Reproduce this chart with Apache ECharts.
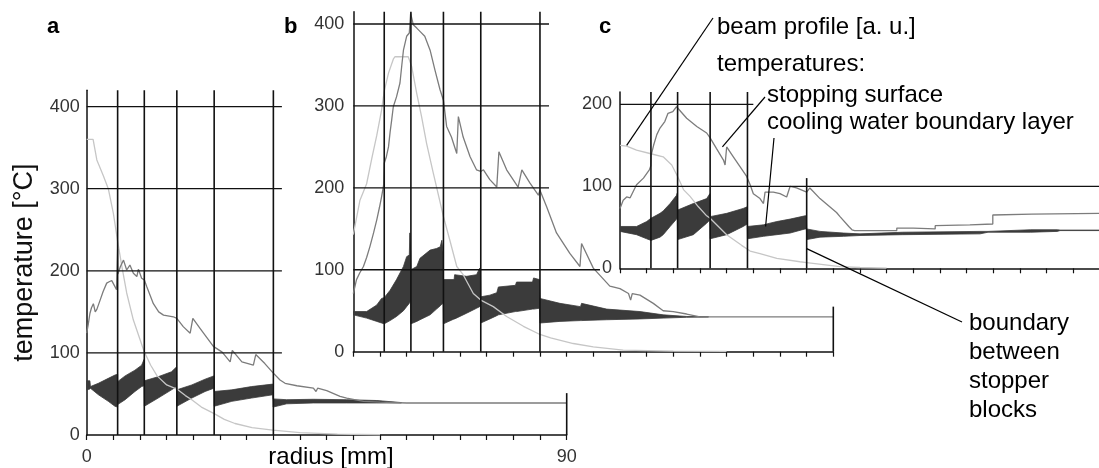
<!DOCTYPE html>
<html><head><meta charset="utf-8">
<script src="https://cdn.jsdelivr.net/npm/echarts@6/dist/echarts.min.js"></script>
<style>html,body{margin:0;padding:0;background:#fff}#c{width:1099px;height:468px}</style>
</head><body><div id="c"></div>
<script>
// ---------- DATA (radius in mm, temperature in °C) ----------
const xTickValues = [0, 90];
const yTickValues = [0, 100, 200, 300, 400];
const blockBounds = [5.8, 10.8, 16.9, 23.9, 35.0];

// Panel a
const beamA = [[0,360],[1.2,360],[1.9,335],[3.1,316],[4.05,300],[5,270],[5.75,238],[6.6,205],[7.5,173],[8.75,140],[10.75,102],[12,85],[13.2,72],[15,61],[16.9,56],[18.5,48],[19.7,43],[21.5,34],[23.9,26],[25.8,19],[27.8,14],[31,9],[34.9,6],[40,3],[47,1],[55,0.3]];
const surfA = [[0,124],[0.3,135],[0.6,148],[0.9,155],[1.25,160],[1.6,150],[1.9,153],[2.5,164],[3.1,175],[3.75,185],[4.3,187],[4.7,188],[5.2,182],[5.6,177],[5.78,176],[5.8,227],[5.85,196],[6.3,205],[6.9,213],[7.5,201],[8.1,207],[8.75,197],[9.4,193],[9.7,202],[10.3,191],[10.8,189],[11.25,181],[12.5,160],[13.5,150],[14.4,146],[16.25,144],[16.9,142],[18.1,132],[19.4,124],[19.9,142],[21.25,130],[22.5,119],[23.75,108],[25.4,101],[26.9,89],[27.3,103],[29.1,89],[31.25,85],[31.7,98],[33.4,87],[34.9,76],[36.25,67],[37.2,63],[39.4,60],[42.5,57],[43,53],[43.3,57],[45,54],[47.5,47],[48.75,45],[51.9,41],[55,40],[60,39],[90,39]];
// [radius, lower, upper]
const bandA = [[0,55,66],[0.6,56,66],[0.7,57,59],[2.2,49,63],[4.05,41,69],[5.3,35,73],[5.8,34,74],
  [5.8,37,65],[7.2,43,72],[9.05,53,79],[10.3,59,85],[10.75,60,92],
  [10.8,35,66],[13.4,45,71],[15.9,55,77],[16.85,59,83],
  [16.9,35,55],[19.7,45,61],[22.2,53,68],[23.85,57,72],
  [23.9,35,53],[27.2,41,55],[30.9,45,59],[34.9,49,62],
  [34.95,34,44],[37.5,38,43],[42.5,39,43.5],[48.75,39,43],[54.4,39,42],[59,39,39.5]];

// Panel b
const beamB = [[0,143],[1.25,185],[2.5,205],[3.5,237],[4.4,264],[5.3,295],[5.8,318],[6.6,340],[7.5,357],[7.8,360],[10.3,360],[10.95,348],[11.9,315],[12.8,287],[13.75,254],[15,218],[16.9,165],[18.1,136],[19.4,104],[20.6,94],[22.5,71],[23.9,63],[26.25,55],[28.75,43],[31.9,31],[35,21],[37,17],[41.25,10],[45,6],[50.6,2],[60,0.6],[70,0.3]];
const surfB = [[0,71],[0.6,88],[1.2,96],[1.9,104],[2.5,115],[3.1,128],[3.8,145],[4.4,161],[4.9,176],[5.3,189],[5.7,204],[5.8,230],[6.2,238],[6.6,250],[6.9,268],[7.2,283],[7.5,299],[8.1,311],[8.75,328],[9.1,350],[9.4,368],[10.0,385],[10.5,389],[10.75,413],[11.25,399],[11.9,395],[12.5,391],[13.4,385],[14.4,368],[15.3,344],[16.25,320],[16.9,307],[17.5,275],[18.4,262],[19.4,242],[19.7,287],[20.6,262],[21.9,238],[23.1,222],[23.9,220],[24.4,222],[25.6,210],[26.9,201],[27.3,244],[28.75,222],[30.9,201],[31.6,222],[33.1,206],[34.7,191],[35,197],[36.25,177],[38.1,145],[40.6,120],[42.5,104],[42.8,132],[45,102],[48.1,80],[50,77],[51.6,71],[52,63],[52.3,71],[53.75,69],[56.25,59],[58.1,50],[60,49],[62.5,46],[65,42.5],[90,42.5]];
const bandB = [[0,45,49],[2.5,41,49],[4.4,37,57],[5.3,35,65],[5.8,34,66],
  [5.8,34,66],[6.9,38,75],[8.1,43,88],[9.4,50,104],[10,55,116],[10.5,59,118],[10.6,60,145],[10.75,61,122],
  [10.8,34,100],[11.9,37,104],[12.5,39,114],[14.4,45,124],[15.6,52,126],[16.3,56,128],[16.6,58,136],[16.85,59,120],
  [16.9,34,88],[18.9,40,88],[19.0,40,94],[21.25,47,92],[23.1,53,94],[23.7,55,102],[23.85,55,95],
  [23.9,35,67],[25.6,40,69],[26.9,44,72],[27.2,45,79],[30.4,49,81],[30.6,49,85],[33.6,52,85],[33.8,52,90],[34.9,53,88],
  [35,35,65],[38.75,37,59],[42.6,38,55],[42.8,38,59],[47.5,39,52],[53.75,40,49],[58.1,41,45],[62.5,42,43],[66.6,42.4,42.6]];

// Panel c
const beamC = [[0,150],[1.25,149],[3.1,144],[5.6,140],[8.1,136],[9.7,126],[10.8,112],[11.9,96],[13.1,88],[14.7,75],[16.25,64],[16.9,61],[20,41],[22.8,28],[24.4,21],[26.25,18],[29.4,12],[33.75,8],[35,7],[41.25,2],[45,1],[50,0.3]];
const surfC = [[0,73],[0.6,83],[1.25,87],[1.9,86],[3.1,102],[4.4,110],[5.5,120],[5.78,125],[5.85,138],[6.3,150],[6.9,163],[7.5,171],[8.4,179],[9.0,189],[9.9,191],[10.6,197],[10.9,195],[12.5,183],[14.4,173],[16.25,165],[16.9,159],[18.1,146],[19.4,132],[19.7,126],[20,148],[21.25,136],[22.5,124],[23.75,112],[24.4,102],[25,91],[26.25,85],[26.9,79],[27.2,93],[28.75,93],[30,91],[31.25,87],[31.9,100],[33.1,98],[35,93],[35.6,98],[37.5,85],[40.6,68],[41.25,63],[42.9,51],[43.5,47],[44,46],[51.9,46],[51.9,49],[55,49],[55,48],[59.1,48],[59.1,52],[65.6,53],[69.9,54],[69.9,65],[77.2,66],[77.2,67],[90,67]];
const bandC = [[0,45,51],[3.1,41,51],[5,36,57],[5.8,34,61],
  [5.8,34,61],[7.5,38,67],[8.1,41,70],[9.4,51,79],[10.6,60,89],[10.75,61,92],
  [10.8,35,71],[13.75,41,79],[16.25,55,85],[16.85,59,91],
  [16.9,36,63],[20,41,67],[23.1,51,73],[23.85,54,75],
  [23.9,36,51],[26.9,39,53],[28.1,40,55],[29.4,41,57],[31.9,43,60],[34.7,48,64],[34.95,48,64],
  [35,35,48],[37.5,38,45],[41.9,39,43],[45,40,42],[53,41,44],[67.5,42,45],[69,44,45],[77,44,47],[82,45,47],[82.5,46,46.6],[90,46,46.6]];

// Grid line extents: [temperature, radius end]
const hGridA = [[100,36.6],[200,36.6],[300,36.6],[400,36.6]];
const hGridB = [[100,46.25],[200,36.7],[300,36.7],[400,36.7]];
const hGridC = [[100,90],[200,25]];
const blockTopA = [420,420,420,420,420];
const blockTopB = [415,415,415,415,415];
const blockTopC = [215,215,215,215,110];
const endMarkA = 51, endMarkB = 55;

// annotation anchors (panel c data coords)
const anchorBeam = [1.25,150], anchorSurf = [19.2,148], anchorBand = [27.3,51], anchorBound = [35,24];

// ---------- LAYOUT ----------
const FONT = 'Liberation Sans, Arial, Helvetica, sans-serif';
const panels = [
  {left:86.7, top:90.2, width:480, height:344.8, ymax:420, labelMargin:7, beam:beamA, surf:surfA, band:bandA, hg:hGridA, bt:blockTopA, em:endMarkA, xl:true},
  {left:353.3, top:11.7, width:480, height:340, ymax:415, labelMargin:9, beam:beamB, surf:surfB, band:bandB, hg:hGridB, bt:blockTopB, em:endMarkB, xl:false},
  {left:620, top:92, width:480, height:176.3, ymax:215, labelMargin:8, beam:beamC, surf:surfC, band:bandC, hg:hGridC, bt:blockTopC, em:null, xl:false}
];

function segsFor(p){
  const s = [];
  p.hg.forEach(h => s.push([0,h[0],h[1],h[0]]));
  blockBounds.forEach((b,i) => s.push([b,0,b,p.bt[i]]));
  if (p.em != null) s.push([90,0,90,p.em]);
  return s;
}

const grid=[], xAxis=[], yAxis=[], series=[];
panels.forEach((p,i)=>{
  grid.push({left:p.left, top:p.top, width:p.width, height:p.height, containLabel:false, outerBoundsMode:'none'});
  xAxis.push({
    type:'value', gridIndex:i, min:0, max:90, interval:5,
    axisLine:{show:true, lineStyle:{color:'#111', width:1.5}},
    axisTick:{show:true, inside:false, length:5, lineStyle:{color:'#111', width:1.2}},
    splitLine:{show:false},
    axisLabel:{show:p.xl, margin:13, fontSize:18, fontFamily:FONT, color:'#333',
      formatter:v => xTickValues.indexOf(v)>=0 ? String(v) : ''}
  });
  yAxis.push({
    type:'value', gridIndex:i, min:0, max:p.ymax, interval:100,
    axisLine:{show:true, lineStyle:{color:'#111', width:1.5}},
    axisTick:{show:false}, splitLine:{show:false},
    axisLabel:{margin:p.labelMargin, fontSize:18, fontFamily:FONT, color:'#333',
      formatter:v => yTickValues.indexOf(v)>=0 ? String(v) : ''},
    name: i===0 ? 'temperature [°C]' : '', nameLocation:'middle', nameGap:49,
    nameTextStyle:{fontSize:27, fontFamily:FONT, color:'#111'}
  });
  const band = p.band;
  series.push({
    type:'custom', xAxisIndex:i, yAxisIndex:i, z:2, clip:true, silent:true,
    data:band, encode:{x:0, y:[1,2]},
    renderItem:(params, api)=>{
      if (params.dataIndex!==0) return null;
      const pts=[];
      for (let k=0;k<band.length;k++) pts.push(api.coord([band[k][0], band[k][2]]));
      for (let k=band.length-1;k>=0;k--) pts.push(api.coord([band[k][0], band[k][1]]));
      return {type:'polygon', shape:{points:pts}, style:{fill:'#3b3b3b', stroke:'#3b3b3b', lineWidth:0.8}};
    }
  });
  series.push({type:'line', xAxisIndex:i, yAxisIndex:i, z:3, data:p.beam, showSymbol:false, symbol:'none',
    lineStyle:{color:'#c6c6c6', width:1.3}, silent:true});
  series.push({type:'line', xAxisIndex:i, yAxisIndex:i, z:4, data:p.surf, showSymbol:false, symbol:'none',
    lineStyle:{color:'#7c7c7c', width:1.3}, silent:true});
  series.push({
    type:'custom', xAxisIndex:i, yAxisIndex:i, z:5, clip:false, silent:true,
    data:segsFor(p), encode:{x:[0,2], y:[1,3]},
    renderItem:(params, api)=>{
      const a=api.coord([api.value(0),api.value(1)]), b=api.coord([api.value(2),api.value(3)]);
      const vertical = api.value(0)===api.value(2);
      return {type:'line', shape:{x1:a[0],y1:a[1],x2:b[0],y2:b[1]},
        style:{stroke:'#111', lineWidth: vertical?1.6:1.3}};
    }
  });
});

const txt = (t,x,y,size,bold,align) => ({type:'text', x:x, y:y, silent:true, z:10,
  style:{text:t, font:(bold?'bold ':'')+size+'px '+FONT, fill:'#000', textAlign:align||'left', textVerticalAlign:'middle'}});

const texts = [
  txt('a',47,27,22,true), txt('b',284,27,22,true), txt('c',599,27,22,true),
  txt('radius [mm]',331,457,24,false,'center'),
  txt('beam profile [a. u.]',717,27,24), txt('temperatures:',717,64,24),
  txt('stopping surface',767,95,24), txt('cooling water boundary layer',767,122,24),
  txt('boundary',969,323,24), txt('between',969,352,24), txt('stopper',969,381,24), txt('blocks',969,410,24)
];

const chart = echarts.init(document.getElementById('c'), null, {renderer:'canvas'});
chart.setOption({backgroundColor:'#fff', animation:false, grid, xAxis, yAxis, series, graphic:texts});

const P = pt => chart.convertToPixel({gridIndex:2}, pt);
const leader = (pt, x2, y2) => { const a=P(pt); return {type:'line', silent:true, z:10,
  shape:{x1:a[0], y1:a[1], x2:x2, y2:y2}, style:{stroke:'#000', lineWidth:1.2}}; };
chart.setOption({graphic: texts.concat([
  leader(anchorBeam, 713, 18),
  leader(anchorSurf, 765, 97),
  leader(anchorBand, 774, 138),
  leader(anchorBound, 962, 322)
])});
</script></body></html>
